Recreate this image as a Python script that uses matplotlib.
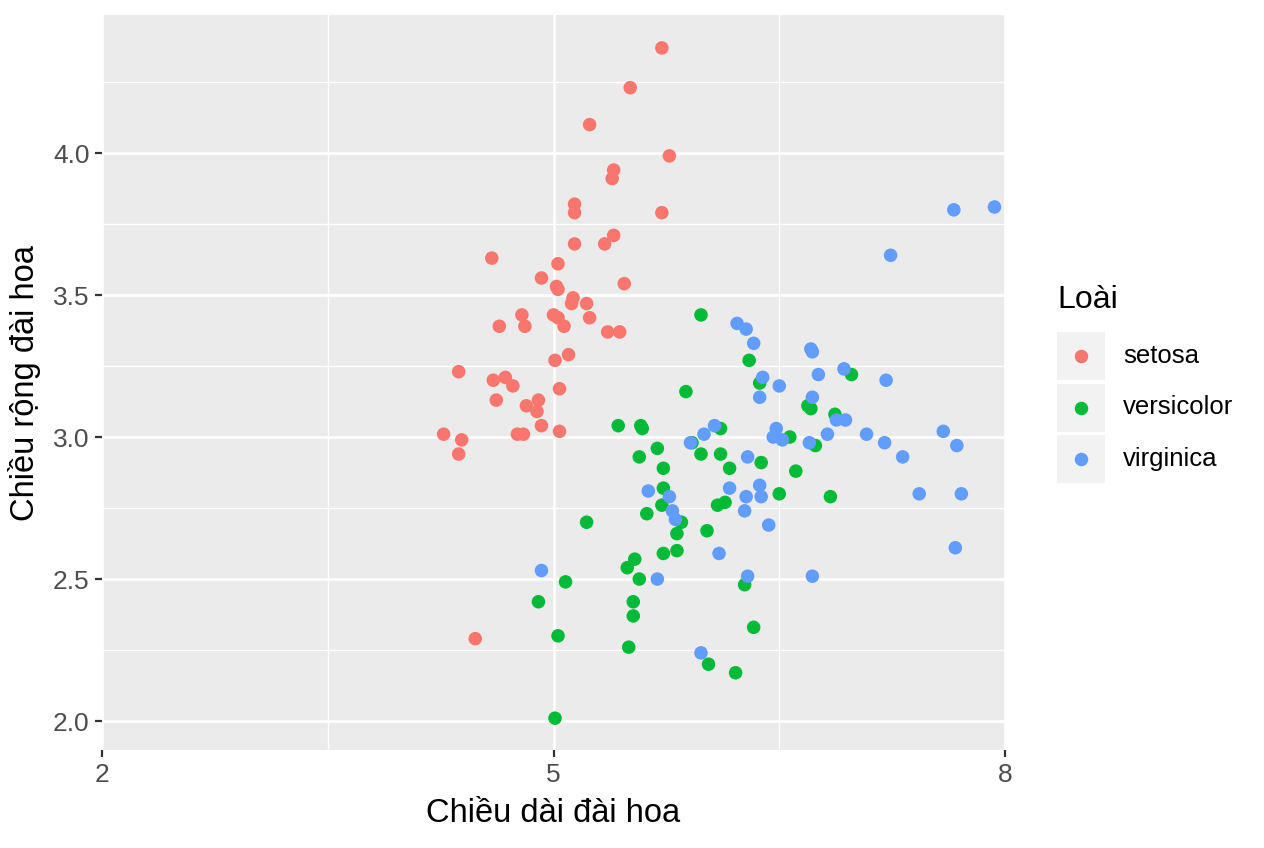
#!/usr/bin/env python3
"""Biểu đồ phân tán hoa iris: chiều dài và chiều rộng đài hoa theo loài."""

import matplotlib
matplotlib.use("Agg")
import matplotlib.pyplot as plt
from matplotlib.patches import Rectangle
from matplotlib.lines import Line2D

# ── Dữ liệu ───────────────────────────────────────────────────
species = ["setosa", "versicolor", "virginica"]
colors = ["#F8766D", "#00BA38", "#619CFF"]

setosa_x = [5.72, 5.51, 5.24, 5.77, 5.40, 5.39, 5.14, 5.14, 5.72, 5.40,
            5.14, 5.34, 4.59, 5.03, 4.92, 5.02, 5.03, 5.47, 5.13, 5.12,
            5.22, 4.79, 4.64, 4.81, 5.00, 5.03, 5.07, 5.24, 5.36, 5.44,
            5.10, 5.01, 4.37, 4.60, 4.68, 4.73, 5.04, 4.62, 4.82, 4.90,
            4.89, 4.92, 4.76, 4.80, 5.04, 4.27, 4.39, 4.37, 4.48]
setosa_y = [4.37, 4.23, 4.10, 3.99, 3.94, 3.91, 3.82, 3.79, 3.79, 3.71,
            3.68, 3.68, 3.63, 3.61, 3.56, 3.53, 3.52, 3.54, 3.49, 3.47,
            3.47, 3.43, 3.39, 3.39, 3.43, 3.42, 3.39, 3.42, 3.37, 3.37,
            3.29, 3.27, 3.23, 3.20, 3.21, 3.18, 3.17, 3.13, 3.11, 3.13,
            3.09, 3.04, 3.01, 3.01, 3.02, 3.01, 2.99, 2.94, 2.29]

versicolor_x = [5.43, 5.58, 5.59, 5.69, 5.57, 5.73, 5.73, 5.72, 5.62, 5.22,
                5.85, 5.82, 6.02, 5.73, 5.82, 5.54, 5.49, 5.57, 5.08, 4.90,
                5.53, 5.53, 5.03, 5.50, 6.03, 6.21, 6.33, 6.27, 5.01, 5.98,
                6.11, 6.17, 6.38, 6.61, 6.50, 6.09, 6.14, 6.11, 5.92, 6.57,
                5.98, 6.30, 6.37, 5.88, 6.98, 6.69, 6.71, 6.87, 6.74, 6.84]
versicolor_y = [3.04, 3.04, 3.03, 2.96, 2.93, 2.89, 2.82, 2.76, 2.73, 2.70,
                2.70, 2.66, 2.67, 2.59, 2.60, 2.57, 2.54, 2.50, 2.49, 2.42,
                2.42, 2.37, 2.30, 2.26, 2.20, 2.17, 2.33, 2.48, 2.01, 2.94,
                2.94, 2.89, 2.91, 2.88, 2.80, 2.76, 2.77, 3.03, 2.98, 3.00,
                3.43, 3.27, 3.19, 3.16, 3.22, 3.11, 3.10, 3.08, 2.97, 2.79]

virginica_x = [7.66, 7.93, 7.24, 6.22, 6.28, 6.33, 6.71, 6.72, 6.39, 6.76,
               6.93, 7.21, 6.50, 6.37, 6.72, 6.88, 6.94, 6.07, 6.00, 5.91,
               6.48, 6.46, 6.52, 6.70, 6.82, 7.08, 7.20, 7.59, 7.68, 7.32,
               6.29, 6.17, 6.28, 6.37, 6.38, 7.43, 7.71, 6.27, 6.43, 6.10,
               7.67, 6.29, 6.72, 5.63, 5.77, 5.79, 5.81, 4.92, 5.69, 5.98]
virginica_y = [3.80, 3.81, 3.64, 3.40, 3.38, 3.33, 3.31, 3.30, 3.21, 3.22,
               3.24, 3.20, 3.18, 3.14, 3.14, 3.06, 3.06, 3.04, 3.01, 2.98,
               3.03, 3.00, 2.99, 2.98, 3.01, 3.01, 2.98, 3.02, 2.97, 2.93,
               2.93, 2.82, 2.79, 2.83, 2.79, 2.80, 2.80, 2.74, 2.69, 2.59,
               2.61, 2.51, 2.51, 2.81, 2.79, 2.74, 2.71, 2.53, 2.50, 2.24]

x_ticks = [2, 5, 8]
y_ticks = [2.0, 2.5, 3.0, 3.5, 4.0]
x_label = "Chiều dài đài hoa"
y_label = "Chiều rộng đài hoa"
legend_title = "Loài"

# ── Cấu hình ──────────────────────────────────────────────────
W, H = 1264, 848
plt.rcParams["font.family"] = ["Liberation Sans", "DejaVu Sans"]

fig = plt.figure(figsize=(W / 100, H / 100), dpi=100)
ax = fig.add_axes([102 / W, 1 - 750 / H, (1005 - 102) / W, (750 - 15) / H])
ax.set_facecolor("#EBEBEB")

series = [(setosa_x, setosa_y), (versicolor_x, versicolor_y),
          (virginica_x, virginica_y)]
for (xs, ys), cor in zip(series, colors):
    ax.scatter(xs, ys, s=95, color=cor, edgecolors="none", zorder=3)

ax.set_xlim(2, 8)
ax.set_ylim(1.898, 4.486)
ax.set_xticks(x_ticks)
ax.set_xticklabels([str(t) for t in x_ticks])
ax.set_yticks(y_ticks)
ax.set_yticklabels([f"{t:.1f}" for t in y_ticks])
ax.set_xticks([3.5, 6.5], minor=True)
ax.set_yticks([2.25, 2.75, 3.25, 3.75, 4.25], minor=True)

ax.grid(which="major", color="white", linewidth=2.0)
ax.grid(which="minor", color="white", linewidth=1.0)
ax.set_axisbelow(True)
for spine in ax.spines.values():
    spine.set_visible(False)

ax.tick_params(which="major", length=5, width=1.6, color="#333333",
               labelcolor="#4D4D4D", labelsize=19, pad=4)
ax.tick_params(which="minor", length=0)

fig.text(553 / W, 1 - 813 / H, x_label, ha="center", va="center",
         fontsize=23.5, color="black")
fig.text(25 / W, 1 - 383 / H, y_label, ha="center", va="center",
         rotation=90, fontsize=23.5, color="black")

# ── Legenda ───────────────────────────────────────────────────
fig.text(1057 / W, 1 - 300 / H, legend_title, ha="left", va="center",
         fontsize=23, color="black")
key_top = 332
for i, (nome, cor) in enumerate(zip(species, colors)):
    top = key_top + i * 51.5
    fig.add_artist(Rectangle((1057 / W, 1 - (top + 48) / H), 48 / W, 48 / H,
                             transform=fig.transFigure, facecolor="#F2F2F2",
                             edgecolor="none"))
    fig.add_artist(Line2D([1081 / W], [1 - (top + 24) / H], marker="o",
                          markersize=9.7, color=cor, markeredgewidth=0,
                          transform=fig.transFigure))
    fig.text(1123 / W, 1 - (top + 24) / H, nome, ha="left", va="center",
             fontsize=18.5, color="black")

fig.savefig("out.png", dpi=100)
